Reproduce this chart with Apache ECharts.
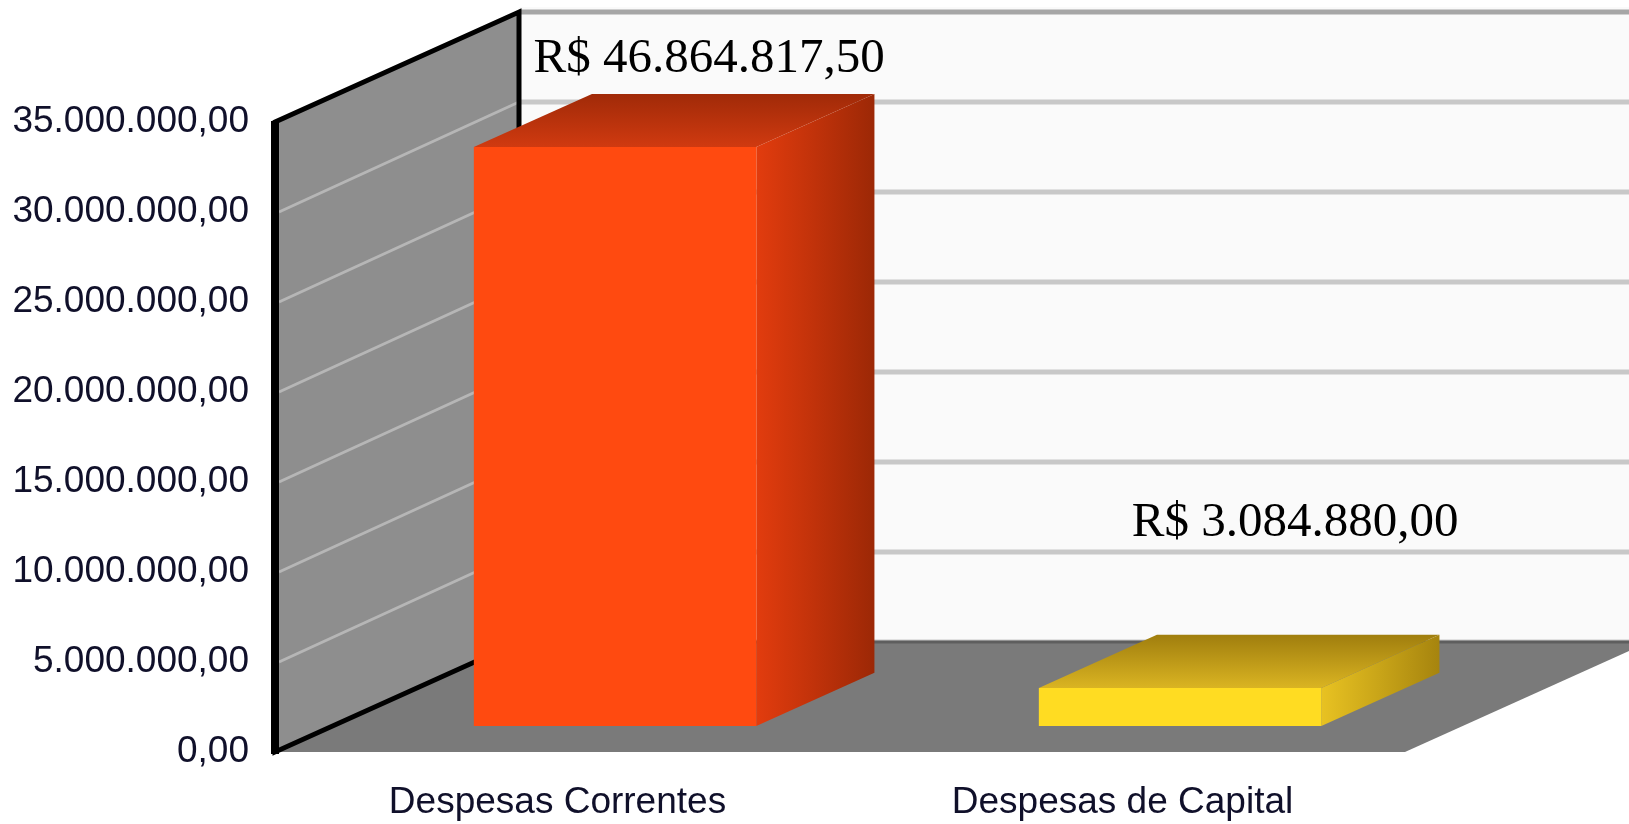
<!DOCTYPE html>
<html>
<head>
<meta charset="utf-8">
<title>Despesas</title>
<script src="https://cdn.jsdelivr.net/npm/echarts@6/dist/echarts.min.js"></script>
<style>
  html, body { margin: 0; padding: 0; background: #fff; }
  #chart { width: 1629px; height: 824px; }
</style>
</head>
<body>
<div id="chart"></div>
<script>
// dados
var categories = ['Despesas Correntes', 'Despesas de Capital'];
var values = [46864817.50, 3084880.00];
var yTicks = [0, 5000000, 10000000, 15000000, 20000000, 25000000, 30000000, 35000000];

// escala das barras (o grafico original nao usa a mesma escala do eixo)
var barScaleMax = 51000000;

// perspectiva (pixels)
var DX = 244, DY = -110;
var barFront = 0.236, barDepth = 0.484;
var labelShift = [[-24, -35], [-3, -112]];

var barStyles = [
  { front: '#ff4a10', side: ['#e23c0e', '#c0320a', '#9c2806'], top: ['#d03a10', '#a02a08'] },
  { front: '#ffdc22', side: ['#e8c222', '#c8a418', '#a6840e'], top: ['#dab422', '#a07e0e'] }
];

function fmtBR(v) {
  var p = v.toFixed(2).split('.');
  return p[0].replace(/\B(?=(\d{3})+(?!\d))/g, '.') + ',' + p[1];
}

var yMax = yTicks[yTicks.length - 1];

function renderRoom(params, api) {
  var cs = params.coordSys;
  var x0 = cs.x, x1 = cs.x + cs.width;
  var yTop = api.coord([0, yMax])[1];
  var yBot = api.coord([0, 0])[1];
  var kids = [];

  // parede do fundo
  kids.push({ type: 'rect', shape: { x: x0 + DX, y: yTop + DY - 5, width: x1 - x0 + 60, height: yBot - yTop + 5 },
    style: { fill: '#fafafa' } });
  yTicks.forEach(function (t) {
    var y = api.coord([0, t])[1] + DY;
    kids.push({ type: 'line', shape: { x1: x0 + DX, y1: y, x2: x1 + DX + 60, y2: y },
      style: { stroke: t === yMax ? '#a6a6a6' : '#c8c8c8', lineWidth: 5 } });
  });

  // piso
  kids.push({ type: 'polygon', shape: { points: [[x0, yBot], [x1, yBot], [x1 + DX, yBot + DY], [x0 + DX, yBot + DY]] },
    style: { fill: '#7a7a7a' } });
  kids.push({ type: 'line', shape: { x1: x0 + DX, y1: yBot + DY, x2: x1 + DX + 60, y2: yBot + DY },
    style: { stroke: '#5e5e5e', lineWidth: 3 } });

  // parede lateral
  var side = [[x0, yTop], [x0 + DX, yTop + DY], [x0 + DX, yBot + DY], [x0, yBot]];
  kids.push({ type: 'polygon', shape: { points: side }, style: { fill: '#8e8e8e' } });
  yTicks.forEach(function (t) {
    if (t === 0 || t === yMax) return;
    var y = api.coord([0, t])[1];
    kids.push({ type: 'line', shape: { x1: x0 + 4, y1: y, x2: x0 + DX, y2: y + DY },
      style: { stroke: '#b6b6b6', lineWidth: 3 } });
  });
  kids.push({ type: 'polygon', shape: { points: side }, style: { fill: null, stroke: '#000', lineWidth: 5 } });
  kids.push({ type: 'line', shape: { x1: x0, y1: yTop - 1, x2: x0, y2: yBot + 2 },
    style: { stroke: '#000', lineWidth: 8 } });

  return { type: 'group', children: kids };
}

function renderBar(params, api) {
  var i = params.dataIndex;
  var st = barStyles[i];
  var base = api.coord([api.value(0), 0]);
  var top = api.coord([api.value(0), api.value(1)]);
  var bw = api.size([1, 0])[0] * 0.5;
  var ox = DX * barFront, oy = DY * barFront;
  var bx = DX * barDepth, by = DY * barDepth;
  var fx = base[0] - bw / 2 + ox;
  var fyT = top[1] + oy, fyB = base[1] + oy;
  var G = echarts.graphic.LinearGradient;
  return {
    type: 'group',
    children: [
      { type: 'polygon', shape: { points: [[fx + bw, fyT], [fx + bw + bx, fyT + by], [fx + bw + bx, fyB + by], [fx + bw, fyB]] },
        style: { fill: new G(0, 0, 1, 0, [{ offset: 0, color: st.side[0] }, { offset: 0.5, color: st.side[1] }, { offset: 1, color: st.side[2] }]) } },
      { type: 'polygon', shape: { points: [[fx, fyT], [fx + bw, fyT], [fx + bw + bx, fyT + by], [fx + bx, fyT + by]] },
        style: { fill: new G(0, 1, 0, 0, [{ offset: 0, color: st.top[0] }, { offset: 1, color: st.top[1] }]) } },
      { type: 'rect', shape: { x: fx, y: fyT, width: bw, height: fyB - fyT }, style: { fill: st.front } },
      { type: 'text', x: fx + bw / 2 + bx + labelShift[i][0], y: fyT + by + labelShift[i][1],
        style: { text: 'R$ ' + fmtBR(api.value(1)), fill: '#000', fontSize: 49,
          fontFamily: 'Liberation Serif', align: 'center', verticalAlign: 'middle' } }
    ]
  };
}

var myChart = echarts.init(document.getElementById('chart'));
var option = {
  animation: false,
  grid: { left: 275, right: 224, top: 122, bottom: 72 },
  xAxis: {
    type: 'category',
    data: categories,
    axisLine: { show: false },
    axisTick: { show: false },
    splitLine: { show: false },
    axisLabel: { margin: 32, fontSize: 37, color: '#10102a', fontFamily: 'Liberation Sans' }
  },
  yAxis: [
    {
      type: 'value', min: 0, max: yMax, interval: 5000000,
      axisLine: { show: false }, axisTick: { show: false }, splitLine: { show: false },
      axisLabel: { margin: 26, fontSize: 37, color: '#10102a', fontFamily: 'Liberation Sans',
        formatter: function (v) { return fmtBR(v); } }
    },
    { type: 'value', min: 0, max: barScaleMax, show: false, splitLine: { show: false } }
  ],
  series: [
    { name: 'room', type: 'custom', z: 1, clip: false, silent: true,
      xAxisIndex: 0, yAxisIndex: 0, data: [[0, 0]], renderItem: renderRoom },
    { name: 'Despesas', type: 'custom', z: 3, clip: false,
      xAxisIndex: 0, yAxisIndex: 1,
      data: values.map(function (v, i) { return [i, v]; }),
      encode: { x: 0, y: 1 }, renderItem: renderBar }
  ]
};
myChart.setOption(option);
window.onresize = function () { myChart.resize(); };
</script>
</body>
</html>
